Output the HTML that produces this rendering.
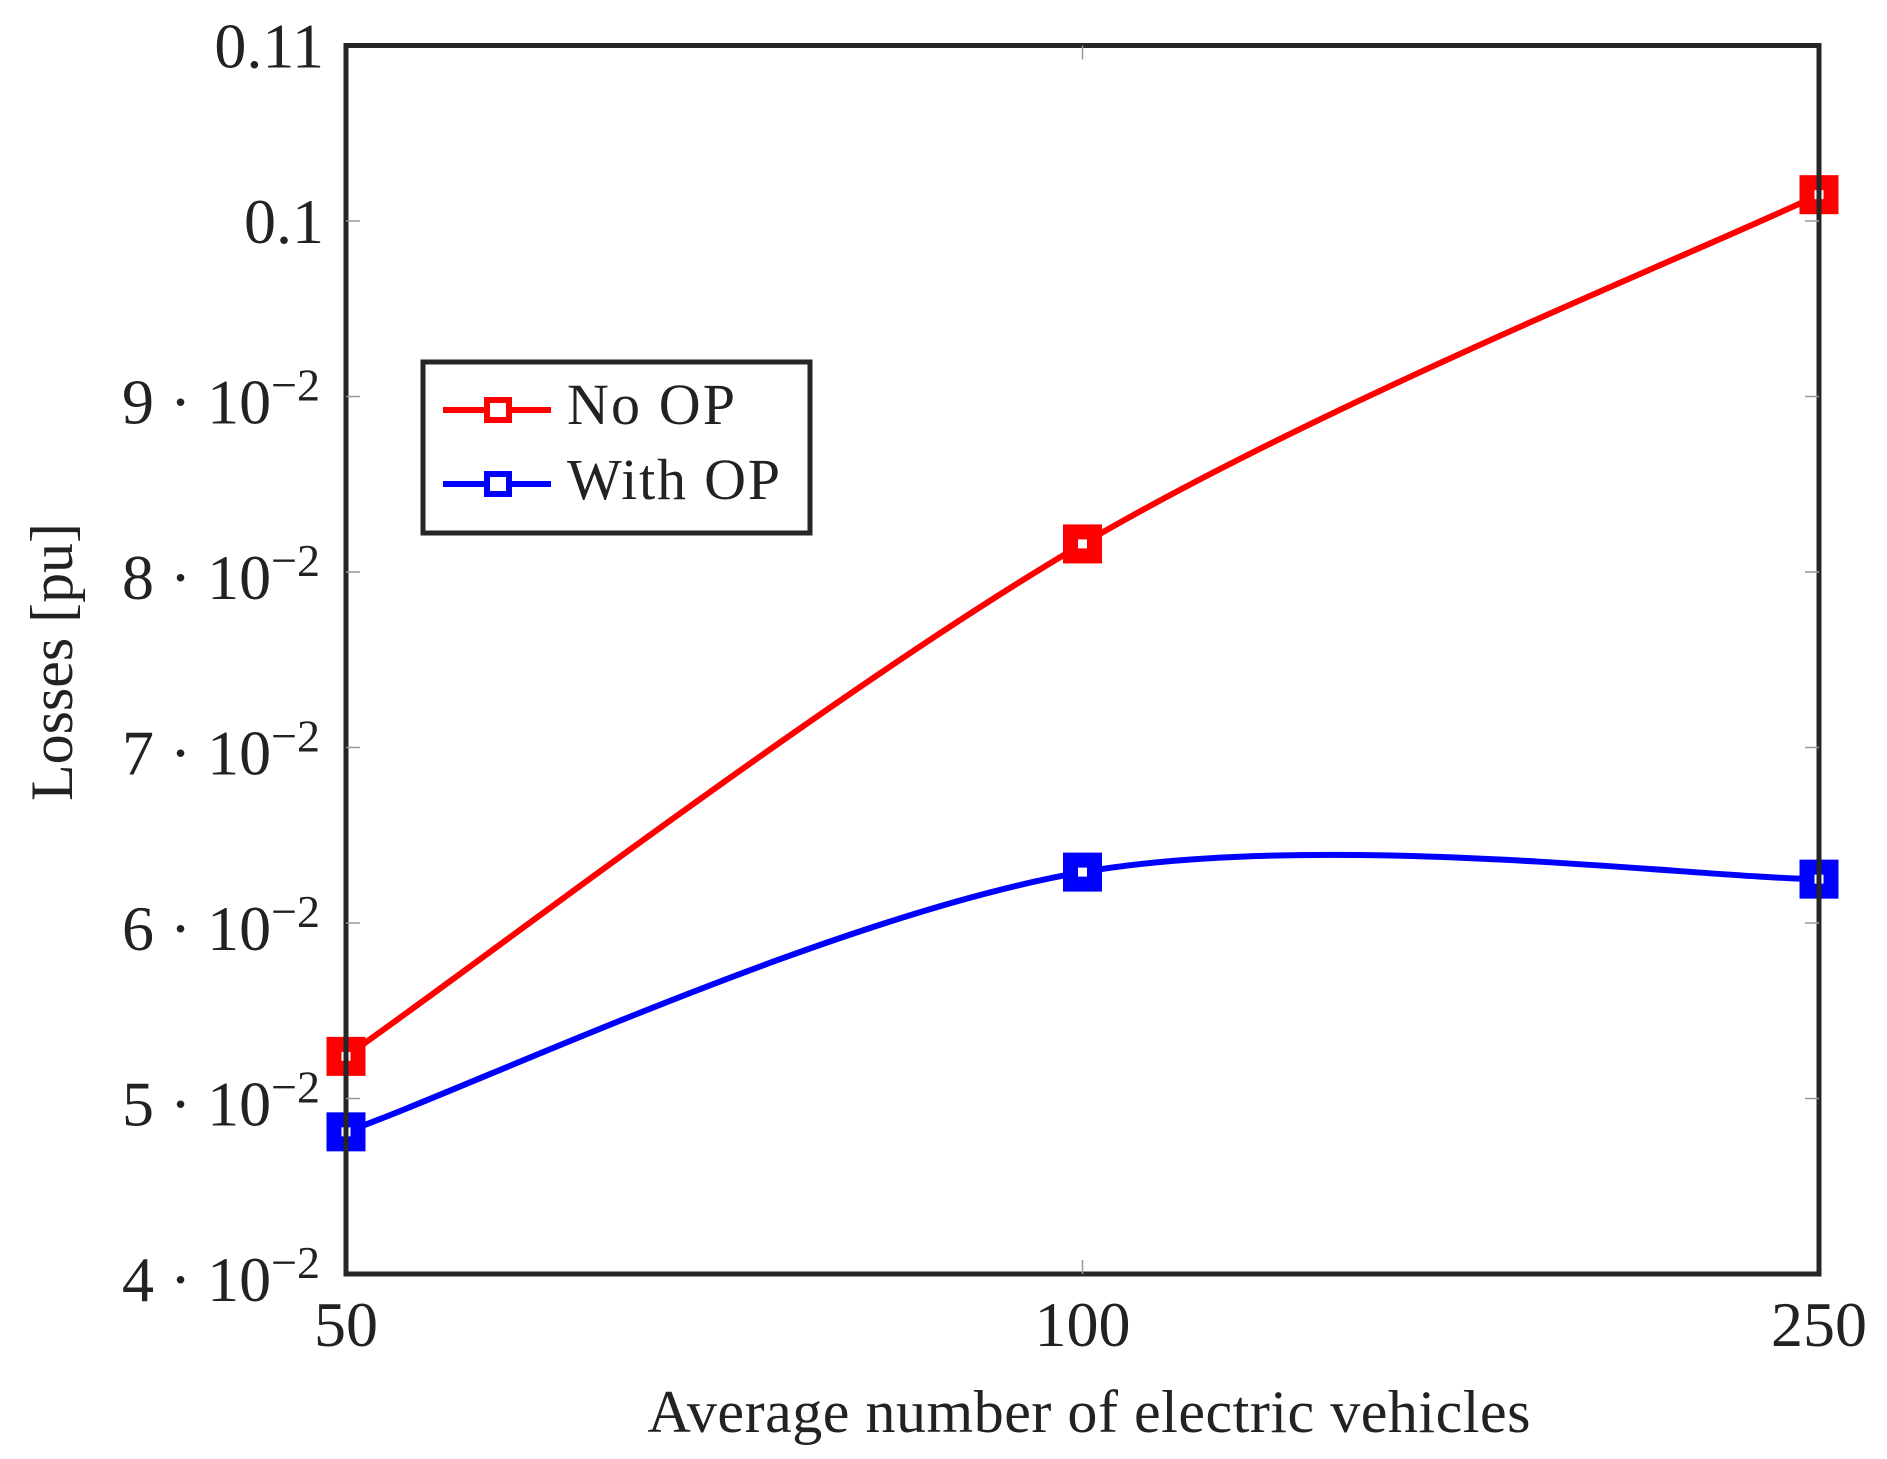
<!DOCTYPE html>
<html><head><meta charset="utf-8"><style>
html,body{margin:0;padding:0;background:#fff}
svg{display:block}
text{font-family:"Liberation Serif",serif;fill:#222}
</style></head><body>
<svg id="chart" width="1887" height="1459" viewBox="0 0 1887 1459">
<g id="grid"></g>
<g id="series"></g>
<rect x="346" y="45.5" width="1473" height="1228.5" fill="none" stroke="#262626" stroke-width="5"/>
<g id="ticks"></g>
<text x="1089" y="1432" font-size="60" text-anchor="middle" textLength="883">Average number of electric vehicles</text>
<text transform="translate(72,662) rotate(-90)" font-size="60" text-anchor="middle" textLength="278">Losses [pu]</text>
<g>
<rect x="423" y="362" width="387" height="171" fill="#fff" stroke="#262626" stroke-width="5"/>
<g>
<line x1="443" y1="410" x2="551" y2="410" stroke="#f00" stroke-width="6"/>
<rect x="487" y="400" width="22" height="20" fill="#fff" stroke="#f00" stroke-width="6"/>
<text x="567" y="424" font-size="58" textLength="168">No OP</text>
</g>
<g>
<line x1="443" y1="484" x2="551" y2="484" stroke="#00f" stroke-width="6"/>
<rect x="487" y="474" width="22" height="20" fill="#fff" stroke="#00f" stroke-width="6"/>
<text x="567" y="499" font-size="58" textLength="213">With OP</text>
</g>
</g>
</svg>
<script>
const categories = ["50", "100", "250"];
const noOp = [0.0524, 0.0816, 0.1015];
const withOp = [0.0481, 0.0629, 0.0625];
const yTicks = [0.04, 0.05, 0.06, 0.07, 0.08, 0.09, 0.10, 0.11];
const yTickMantissa = ["4", "5", "6", "7", "8", "9", "0.1", "0.11"];

const NS = "http://www.w3.org/2000/svg";
const X0 = 346, X1 = 1819, Y0 = 1274, Y1 = 45.5, YMIN = 0.04, YMAX = 0.11;
function xs(i){ return X0 + (X1 - X0) * i / (categories.length - 1); }
function ys(v){ return Y0 - (v - YMIN) / (YMAX - YMIN) * (Y0 - Y1); }
function mk(tag, attrs, parent){
  const e = document.createElementNS(NS, tag);
  for (const k in attrs) e.setAttribute(k, attrs[k]);
  parent.appendChild(e);
  return e;
}
const ticksG = document.getElementById('ticks');
const seriesG = document.getElementById('series');

yTicks.forEach((v, i) => {
  const y = ys(v);
  if (i > 0 && i < yTicks.length - 1) {
    const t1 = mk('line', {x1: X0, y1: y, x2: X0 + 14, y2: y, stroke: '#999', 'stroke-width': 1.5}, ticksG);
    
    
    const t2 = mk('line', {x1: X1 - 14, y1: y, x2: X1, y2: y, stroke: '#999', 'stroke-width': 1.5}, ticksG);
    
    
  }
  const m = yTickMantissa[i];
  let t;
  if (m.indexOf('.') >= 0) {
    t = mk('text', {x: 324, y: y + 22, 'font-size': 64, 'text-anchor': 'end'}, ticksG);
    t.textContent = m;
  } else {
    t = mk('text', {x: 320, y: y + 27, 'font-size': 64, 'text-anchor': 'end', textLength: 198}, ticksG);
    const a = mk('tspan', {}, t); a.textContent = m + " \u00B7 10";
    const b = mk('tspan', {dy: -23, 'font-size': 46}, t); b.textContent = "\u22122";
  }
  
  
});

categories.forEach((c, i) => {
  const x = xs(i);
  if (i > 0 && i < categories.length - 1) {
    const a = mk('line', {x1: x, y1: Y0, x2: x, y2: Y0 - 14, stroke: '#999', 'stroke-width': 1.5}, ticksG);
    
    
    const b = mk('line', {x1: x, y1: Y1, x2: x, y2: Y1 + 14, stroke: '#999', 'stroke-width': 1.5}, ticksG);
    
    
  }
  const t = mk('text', {x: x, y: 1346, 'font-size': 64, 'text-anchor': 'middle'}, ticksG);
  t.textContent = c;
  
  
});

function smoothPath(vals){
  const p = vals.map((v, i) => [xs(i), ys(v)]);
  const k = 0.5 / 3;
  let d = "M" + p[0][0] + "," + p[0][1];
  for (let i = 0; i < p.length - 1; i++) {
    const a = p[Math.max(i - 1, 0)], b = p[i], c = p[i + 1], e = p[Math.min(i + 2, p.length - 1)];
    const c1 = [b[0] + (c[0] - a[0]) * k, b[1] + (c[1] - a[1]) * k];
    const c2 = [c[0] - (e[0] - b[0]) * k, c[1] - (e[1] - b[1]) * k];
    d += " C" + c1 + " " + c2 + " " + c;
  }
  return d;
}
function drawSeries(vals, color, name){
  const path = mk('path', {d: smoothPath(vals), fill: 'none', stroke: color, 'stroke-width': 6}, seriesG);
  
  
  vals.forEach((v, i) => {
    const r = mk('rect', {x: xs(i) - 12, y: ys(v) - 12, width: 24, height: 24, fill: '#fff', stroke: color, 'stroke-width': 15}, seriesG);
    
    
  });
}
drawSeries(noOp, '#f00', 'no-op');
drawSeries(withOp, '#00f', 'with-op');
</script>
</body></html>
